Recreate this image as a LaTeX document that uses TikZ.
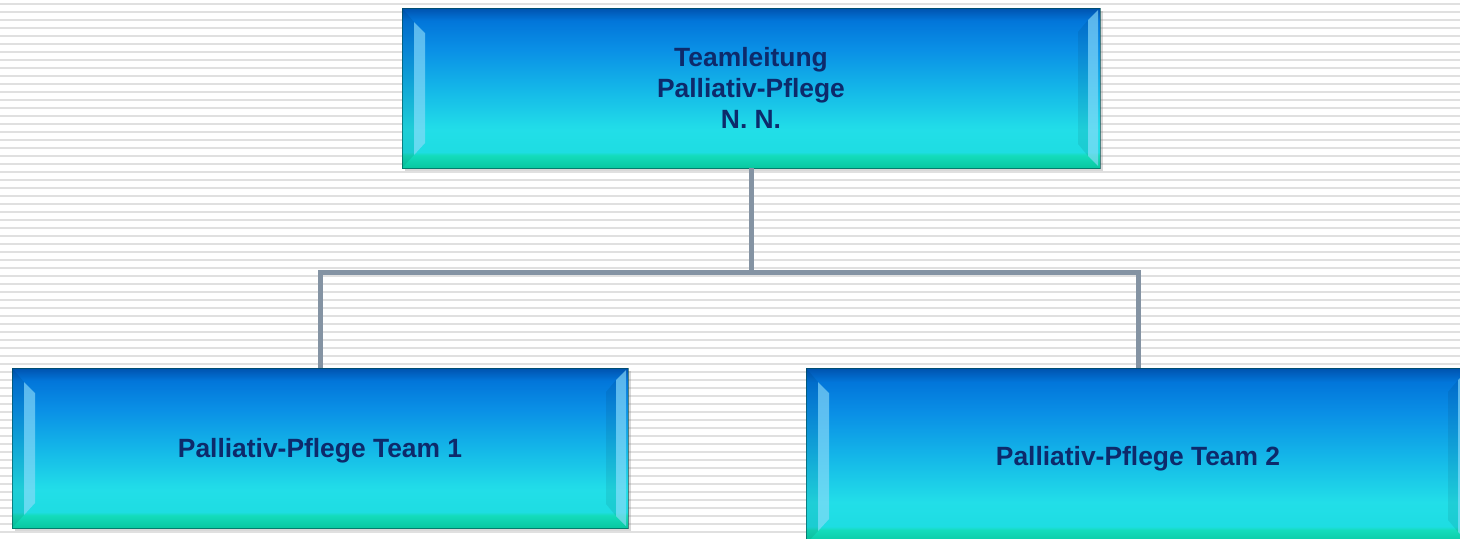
\documentclass[tikz,border=0pt]{standalone}
\usepackage{xcolor}
\usepackage{fontspec}
\setmainfont{Liberation Sans}
\usepackage{tikz}
\usetikzlibrary{calc, shadows}

\definecolor{navytext}{HTML}{0D2A6B}
\definecolor{linkgray}{HTML}{8493A3}
\definecolor{stripe}{HTML}{E0E0E0}
\definecolor{gbA}{HTML}{08C8A0}
\definecolor{gbB}{HTML}{14DCBC}
\definecolor{gbC}{HTML}{1EDDE2}
\definecolor{gbD}{HTML}{22DEE8}
\definecolor{gbE}{HTML}{14B6E8}
\definecolor{gbF}{HTML}{0A90E6}
\definecolor{gbG}{HTML}{0276DA}
\definecolor{gbH}{HTML}{0052AE}
\pgfdeclareverticalshading{glassblue}{100bp}{
  color(0bp)=(gbA); color(25bp)=(gbA);
  color(29bp)=(gbB); color(30bp)=(gbC);
  color(37bp)=(gbD); color(50bp)=(gbE);
  color(62bp)=(gbF); color(71bp)=(gbG);
  color(75bp)=(gbH); color(100bp)=(gbH)}

\begin{document}
\begin{tikzpicture}[x=0.5pt, y=-0.5pt]
\tikzstyle{unit}=[rectangle, shading=glassblue, draw=teal!60!black, draw opacity=.6, line width=.4pt,
  drop shadow={shadow xshift=1.5pt, shadow yshift=-1.5pt, opacity=.3},
  text=navytext, align=center, inner sep=0pt, text depth=0pt,
  font=\bfseries\fontsize{13.2}{15.5}\selectfont,
  path picture={
    \coordinate (nw) at (path picture bounding box.north west);
    \coordinate (ne) at (path picture bounding box.north east);
    \coordinate (sw) at (path picture bounding box.south west);
    \coordinate (se) at (path picture bounding box.south east);
    \fill[black, opacity=.07] (nw) -- ($(nw)+(6pt,-7pt)$) -- ($(sw)+(6pt,6.5pt)$) -- (sw) -- cycle;
    \fill[cyan!45!white, opacity=.65] ($(nw)+(6pt,-7pt)$) -- ($(nw)+(11.5pt,-12.5pt)$)
      -- ($(sw)+(11.5pt,12.5pt)$) -- ($(sw)+(6pt,6.5pt)$) -- cycle;
    \fill[black, opacity=.07] ($(ne)+(-11pt,-12pt)$) -- ($(ne)+(-6pt,-6pt)$)
      -- ($(se)+(-6pt,6pt)$) -- ($(se)+(-11pt,12pt)$) -- cycle;
    \fill[cyan!45!white, opacity=.65] ($(ne)+(-6pt,-6pt)$) -- ($(ne)+(-1pt,-1pt)$)
      -- ($(se)+(-1pt,1pt)$) -- ($(se)+(-6pt,6pt)$) -- cycle;
  }]
\tikzstyle{link}=[draw=linkgray, line width=2.5pt]

\useasboundingbox (0,0) rectangle (1460,538);
\clip (0,0) rectangle (1460,538);
\fill[white] (0,0) rectangle (1460,538);
\foreach \k in {0,...,67}
  \draw[stripe, line width=1.1pt] (0,4+8*\k) -- (1460,4+8*\k);

\node[unit, minimum width=349pt, minimum height=80pt] (lead) at (751,88)
  {Teamleitung\\Palliativ-Pflege\\N. N.};
\node[unit, minimum width=308pt, minimum height=80pt] (team1) at (320,448)
  {Palliativ-Pflege Team 1};
\node[unit, minimum width=332pt, minimum height=88pt] (team2) at (1138,456)
  {Palliativ-Pflege Team 2};

\draw[link] (lead.south) -- ++(0,104) coordinate (bus) -| (team1.north);
\draw[link] (bus) -| (team2.north);
\end{tikzpicture}
\end{document}
